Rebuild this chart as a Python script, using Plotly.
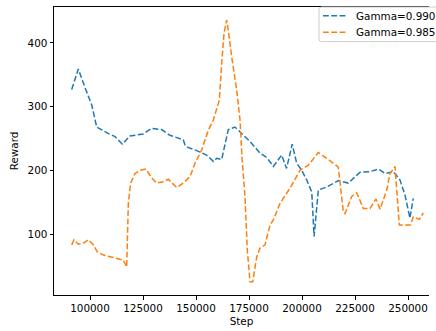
import plotly.graph_objects as go

# Training curves: reward vs. environment step for two discount factors
step_g990 = [91370, 94480, 97640, 100800, 103160, 104720, 108500, 111800, 115240,
             118870, 125140, 129100, 133800, 137700, 139300, 144000, 144800, 146200,
             150300, 155000, 158200, 159800, 162100, 165250, 168400, 171500, 175500,
             180200, 183400, 186500, 190400, 192700, 195400, 197500, 199900, 202200,
             204600, 205700, 207700, 211700, 217200, 219300, 221800, 227400, 232100,
             236000, 239200, 243100, 246200, 248600, 250900, 252500]
reward_g990 = [327, 359, 330, 303, 268, 265, 258, 253, 241,
               254, 257, 266, 264, 255, 253, 248, 240, 236,
               231, 224, 214, 219, 217, 264, 268, 258, 245,
               227, 220, 206, 224, 203, 241, 211, 200, 185,
               166, 96, 169, 174, 184, 182, 180, 197, 198,
               202, 195, 198, 185, 161, 125, 156]

step_g985 = [91370, 92450, 94480, 96560, 99200, 101560, 103440, 106270, 110990,
             115710, 117310, 118100, 119200, 121230, 123590, 126420, 129100, 131460,
             134580, 136930, 140900, 144010, 147170, 149530, 152690, 155800, 158160,
             160990, 162120, 163210, 164480, 165240, 166840, 169200, 170760, 171700,
             173100, 174200, 175470, 176750, 178630, 180190, 182550, 184910, 186470,
             189620, 194340, 199060, 202970, 207690, 212410, 217130, 219490, 220290,
             223450, 225810, 228920, 232080, 234910, 236800, 239960, 241510, 243870,
             245900, 251180, 252500, 255330, 257220]
reward_g985 = [83, 91, 84, 85, 91, 83, 72, 67, 63,
               59, 48, 150, 180, 195, 200, 202, 188, 180,
               182, 186, 173, 180, 190, 211, 232, 263, 279,
               310, 368, 415, 436, 420, 378, 326, 279, 220,
               159, 75, 25, 25, 64, 78, 83, 114, 122,
               148, 172, 200, 208, 228, 217, 205, 135, 132,
               159, 165, 140, 140, 155, 139, 169, 195, 206,
               114, 114, 127, 123, 133]

series_names = ["Gamma=0.990", "Gamma=0.985"]
series_colors = ["#1f77b4", "#ff7f0e"]

x_ticks = [100000, 125000, 150000, 175000, 200000, 225000, 250000]
y_ticks = [100, 200, 300, 400]

FONT = "DejaVu Sans"
FS = 10.4
DASH = "5.8px,2.5px"
LW = 1.5

W, H = 436, 331
ML, MR, MT, MB = 54, 7, 7, 36
PW, PH = W - ML - MR, H - MT - MB


def px_x(p):
    # pixel column -> paper x
    return (p - ML) / PW


def px_y(p):
    # pixel row -> paper y
    return (H - MB - p) / PH


fig = go.Figure()
for name, color, xs, ys in zip(series_names, series_colors,
                               [step_g990, step_g985], [reward_g990, reward_g985]):
    fig.add_trace(go.Scatter(
        x=xs, y=ys, mode="lines", name=name, showlegend=False,
        line=dict(color=color, width=LW, dash=DASH),
    ))

# Legend box (rounded on the left, runs past the right edge of the canvas)
x0, x1 = px_x(319), px_x(452)
y_top, y_bot = px_y(7), px_y(41.7)
rx, ry = 2.5 / PW, 2.5 / PH
box_path = (f"M {x0 + rx},{y_top} L {x1},{y_top} L {x1},{y_bot} L {x0 + rx},{y_bot} "
            f"Q {x0},{y_bot} {x0},{y_bot + ry} L {x0},{y_top - ry} "
            f"Q {x0},{y_top} {x0 + rx},{y_top} Z")
shapes = [dict(type="path", xref="paper", yref="paper", path=box_path, layer="above",
               fillcolor="rgba(255,255,255,0.8)", line=dict(color="#cccccc", width=1))]
annotations = []
for row_y, name, color in zip([15.7, 32.3], series_names, series_colors):
    yy = px_y(row_y)
    shapes.append(dict(type="line", xref="paper", yref="paper", layer="above",
                       x0=px_x(323), x1=px_x(346), y0=yy, y1=yy,
                       line=dict(color=color, width=LW, dash=DASH)))
    annotations.append(dict(xref="paper", yref="paper", x=px_x(354), y=yy,
                            xanchor="left", yanchor="middle", showarrow=False,
                            text=name, font=dict(family=FONT, size=FS, color="black")))

axis_common = dict(
    showgrid=False, zeroline=False,
    showline=True, linecolor="black", linewidth=1,
    ticks="outside", ticklen=3.5, tickwidth=0.8, tickcolor="black",
    tickfont=dict(family=FONT, size=FS, color="black"),
)

fig.update_layout(
    width=W, height=H,
    margin=dict(l=ML, r=MR, t=MT, b=MB, autoexpand=False),
    paper_bgcolor="white", plot_bgcolor="white",
    font=dict(family=FONT, size=FS, color="black"),
    showlegend=False,
    shapes=shapes,
    annotations=annotations,
    xaxis=dict(
        axis_common, range=[83019, 259906], mirror=True,
        tickvals=x_ticks, ticktext=[str(v) for v in x_ticks],
        title=dict(text="Step", font=dict(family=FONT, size=FS), standoff=4),
    ),
    yaxis=dict(
        axis_common, range=[4.2, 456.5],
        tickvals=y_ticks, ticktext=[str(v) for v in y_ticks],
        title=dict(text="Reward", font=dict(family=FONT, size=FS), standoff=6),
    ),
)

fig.write_html("out.html")
